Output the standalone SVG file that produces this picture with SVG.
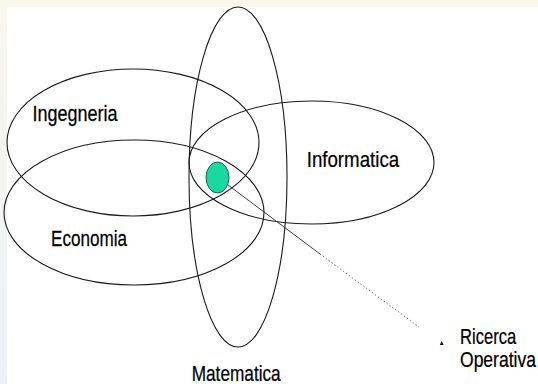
<svg xmlns="http://www.w3.org/2000/svg" width="538" height="384" viewBox="0 0 538 384">
<defs>
<linearGradient id="side" x1="0" y1="0" x2="0" y2="1">
<stop offset="0" stop-color="#f8f8ec"/>
<stop offset="1" stop-color="#eef0f8"/>
</linearGradient>
<style>
.set{fill:none;stroke:#1a1a1a;stroke-width:1.1}
.lbl{font-family:"Liberation Sans",Arial,sans-serif;font-size:22px;fill:#000;stroke:#000;stroke-width:0.25}
</style>
</defs>
<rect x="0" y="0" width="538" height="384" fill="url(#side)"/>
<rect x="0" y="0" width="538" height="7" fill="#f8f8ec"/>
<rect x="7" y="7" width="531" height="377" fill="#ffffff"/>
<g id="ingegneria">
<ellipse class="set" cx="133" cy="142.5" rx="126" ry="73.5"/>
<text class="lbl" transform="translate(32.5,121) scale(0.818,1)">Ingegneria</text>
</g>
<g id="economia">
<ellipse class="set" cx="134" cy="212.5" rx="130" ry="72.5"/>
<text class="lbl" transform="translate(51,245.5) scale(0.777,1)">Economia</text>
</g>
<g id="informatica">
<ellipse class="set" cx="311.5" cy="162.5" rx="122.5" ry="61.5"/>
<text class="lbl" transform="translate(306.7,167.3) scale(0.85,1)">Informatica</text>
</g>
<g id="matematica">
<ellipse class="set" cx="238" cy="177" rx="49" ry="170"/>
<text class="lbl" transform="translate(191.7,381) scale(0.783,1)">Matematica</text>
</g>
<g id="ricerca-operativa-area">
<ellipse cx="217.5" cy="177.5" rx="11.5" ry="15.5" fill="#1ad9a0" stroke="#1a3a30" stroke-width="0.8"/>
</g>
<g id="connectors">
<line x1="228" y1="185" x2="320" y2="254" stroke="#222" stroke-width="0.9"/>
<line x1="320" y1="254" x2="419" y2="327" stroke="#444" stroke-width="0.9" stroke-dasharray="1.2 2.4"/>
</g>
<g id="ricerca-operativa">
<polygon points="439.8,345 443.6,345 441.7,341" fill="#111"/>
<text class="lbl" transform="translate(460,344) scale(0.754,1)">Ricerca</text>
<text class="lbl" transform="translate(460,367) scale(0.797,1)">Operativa</text>
</g>
</svg>
